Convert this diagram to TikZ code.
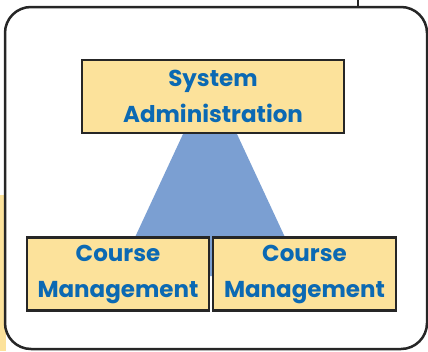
\documentclass[tikz,border=0pt]{standalone}
\usepackage{fontspec}
\setmainfont{Poppins}
\definecolor{boxyellow}{HTML}{FCE29B}
\definecolor{triblue}{HTML}{7B9FD2}
\definecolor{textblue}{HTML}{0B69B3}
\definecolor{linedark}{HTML}{262626}
\begin{document}
\begin{tikzpicture}[x=1pt,y=-1pt,
  box/.style={draw=linedark, line width=2.2pt, fill=boxyellow, inner sep=0pt,
    minimum height=73pt, align=center, text=textblue,
    font=\bfseries\fontsize{23}{37}\selectfont},
  frame/.style={draw=linedark, line width=2.5pt, rounded corners=26pt}]
\useasboundingbox (0,0) rectangle (428,351);
\fill[boxyellow] (0,195) rectangle (6,351);
\draw[frame] (5,7) rectangle (427,349);
\coordinate (linetop) at (358,0);
\coordinate (linebot) at (358,7);
\draw[linedark, line width=2pt] (linetop) -- (linebot);
\fill[triblue] (210,76) -- (117,276) -- (303,276) -- cycle;
\node[box, minimum width=262pt] (sys) at (213,96.5) {System\\[-1pt]Administration};
\node[box, minimum width=182pt] (cm1) at (118,274) {Course\\[-1pt]Management};
\node[box, minimum width=183pt] (cm2) at (304.5,274) {Course\\[-1pt]Management};
\end{tikzpicture}
\end{document}
